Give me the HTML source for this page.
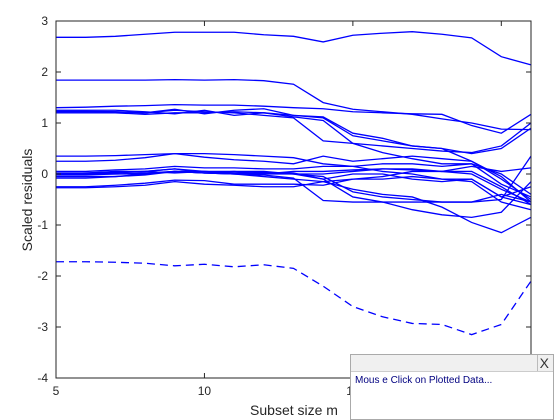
<!DOCTYPE html>
<html><head><meta charset="utf-8"><style>
body{margin:0;background:#fff;width:560px;height:420px;overflow:hidden;font-family:"Liberation Sans",sans-serif;position:relative}
#pop{position:absolute;left:350px;top:354px;width:204px;height:66px;background:#fff;border:1px solid #aaa;box-sizing:border-box}
#bar{height:16px;background:#f0f0f0;border-bottom:1px solid #ccc;position:relative}
#x{position:absolute;right:2px;top:0;font-size:14px;line-height:16px;color:#333;border-left:1px solid #bbb;padding:0 2px}
#msg{font-size:10px;color:#000080;padding:3px 4px}
</style></head><body>
<svg id="chart" width="560" height="420" style="position:absolute;left:0;top:0"></svg>
<div id="pop"><div id="bar"><span id="x">X</span></div><div id="msg">Mous e Click on Plotted Data...</div></div>
<script>
const xs=[5,6,7,8,9,10,11,12,13,14,15,16,17,18,19,20,21];
const xTicks=[5,10,15,20];
const yTicks=[3,2,1,0,-1,-2,-3,-4];
const s1=[2.68,2.68,2.70,2.74,2.78,2.78,2.78,2.73,2.70,2.59,2.72,2.76,2.79,2.74,2.67,2.30,2.14];
const s2=[1.84,1.84,1.84,1.84,1.85,1.84,1.85,1.83,1.76,1.40,1.27,1.22,1.17,1.08,1.0,0.88,0.87];
const s3=[1.30,1.31,1.33,1.34,1.36,1.35,1.35,1.33,1.30,1.28,1.22,1.20,1.18,1.17,0.95,0.80,1.17];
const s4=[1.22,1.22,1.22,1.20,1.25,1.22,1.20,1.15,1.10,0.65,0.60,0.55,0.50,0.45,0.42,0.55,1.0];
const s5=[1.25,1.25,1.25,1.22,1.18,1.25,1.15,1.20,1.15,1.10,0.75,0.65,0.55,0.50,0.40,0.50,0.90];
const s6=[1.20,1.20,1.20,1.17,1.20,1.20,1.22,1.20,1.12,1.05,0.60,0.42,0.30,0.20,0.20,0.0,-0.40];
const s7=[1.23,1.23,1.22,1.20,1.27,1.18,1.25,1.28,1.15,1.12,0.80,0.70,0.55,0.50,0.25,-0.05,-0.55];
const s8=[0.35,0.35,0.36,0.38,0.40,0.40,0.38,0.35,0.32,0.20,0.15,0.05,0.0,-0.10,-0.15,-0.55,-0.70];
const s9=[0.25,0.25,0.27,0.32,0.40,0.33,0.28,0.25,0.20,0.35,0.25,0.30,0.35,0.30,0.25,-0.10,-0.50];
const s10=[0.0,0.02,0.03,0.05,0.10,0.05,0.05,0.05,0.0,-0.05,-0.35,-0.45,-0.50,-0.55,-0.55,-0.40,-0.55];
const s11=[-0.05,-0.05,-0.05,0.0,0.05,0.02,0.0,-0.02,-0.08,-0.52,-0.55,-0.55,-0.55,-0.55,-0.55,-0.50,0.35];
const s12=[0.0,0.0,0.02,0.05,0.02,0.05,0.02,0.02,0.0,-0.10,-0.45,-0.55,-0.70,-0.80,-0.85,-0.75,-0.15];
const s13=[0.05,0.05,0.08,0.10,0.15,0.12,0.12,0.10,0.10,0.15,0.15,0.20,0.20,0.15,0.20,-0.20,-0.45];
const s14=[-0.08,-0.08,-0.05,-0.02,0.05,0.02,0.0,-0.05,-0.10,-0.15,-0.30,-0.40,-0.45,-0.65,-0.95,-1.15,-0.85];
const s15=[0.02,0.02,0.05,0.05,0.10,0.02,0.05,0.0,0.0,0.0,0.05,0.10,0.10,0.05,0.05,-0.25,-0.60];
const s16=[-0.02,-0.02,0.0,0.02,0.05,0.05,0.02,0.03,0.02,-0.10,0.0,0.0,-0.10,-0.15,-0.10,-0.45,-0.25];
const s17=[-0.27,-0.27,-0.25,-0.22,-0.15,-0.20,-0.22,-0.25,-0.25,-0.15,-0.10,-0.10,-0.05,-0.10,-0.10,-0.45,-0.60];
const s18=[-0.25,-0.25,-0.22,-0.18,-0.12,-0.13,-0.20,-0.20,-0.20,-0.22,-0.10,-0.05,0.05,0.05,0.15,0.05,0.12];
const s19=[0.0,0.0,0.0,0.0,0.05,0.02,0.0,0.0,0.05,0.05,0.08,0.10,0.08,0.05,0.0,-0.30,-0.55];
const dashed=[-1.72,-1.72,-1.73,-1.75,-1.80,-1.77,-1.82,-1.78,-1.85,-2.20,-2.60,-2.80,-2.93,-2.95,-3.15,-2.95,-2.10];
const solid=[s1,s2,s3,s4,s5,s6,s7,s8,s9,s10,s11,s12,s13,s14,s15,s16,s17,s18,s19];
const L=56,R=531,T=21,B=378,xmin=5,xmax=21,ymin=-4,ymax=3;
const sx=v=>L+(v-xmin)/(xmax-xmin)*(R-L), sy=v=>B-(v-ymin)/(ymax-ymin)*(B-T);
const svg=document.getElementById('chart'),NS='http://www.w3.org/2000/svg';
function mk(t,a){const e=document.createElementNS(NS,t);for(const k in a)e.setAttribute(k,a[k]);svg.appendChild(e);return e;}
function line(d,name,dash){const e=mk('polyline',{points:d.map((v,i)=>sx(xs[i])+','+sy(v)).join(' '),fill:'none',stroke:'#0000ff','stroke-width':1.3});
if(dash)e.setAttribute('stroke-dasharray','8,5');

}
solid.forEach((d,i)=>line(d,'residual-line-'+(i+1),false));
line(dashed,'residual-line-dashed',true);
const box=mk('rect',{x:L,y:T,width:R-L,height:B-T,fill:'none',stroke:'#262626','stroke-width':1});


xTicks.forEach(v=>{const x=sx(v);
mk('line',{x1:x,x2:x,y1:B,y2:B-5,stroke:'#262626'});mk('line',{x1:x,x2:x,y1:T,y2:T+5,stroke:'#262626'});
const t=mk('text',{x:x,y:B+17,'text-anchor':'middle','font-size':12,fill:'#262626'});t.textContent=v;

});
yTicks.forEach(v=>{const y=sy(v);
mk('line',{x1:L,x2:L+5,y1:y,y2:y,stroke:'#262626'});mk('line',{x1:R,x2:R-5,y1:y,y2:y,stroke:'#262626'});
const t=mk('text',{x:L-8,y:y+4,'text-anchor':'end','font-size':12,fill:'#262626'});t.textContent=v;

});
const xl=mk('text',{x:294,y:415,'text-anchor':'middle','font-size':14,fill:'#262626'});xl.textContent='Subset size m';


const yl=mk('text',{x:0,y:0,'text-anchor':'middle','font-size':14,fill:'#262626',transform:'translate(32,200) rotate(-90)'});yl.textContent='Scaled residuals';


</script>
</body></html>
